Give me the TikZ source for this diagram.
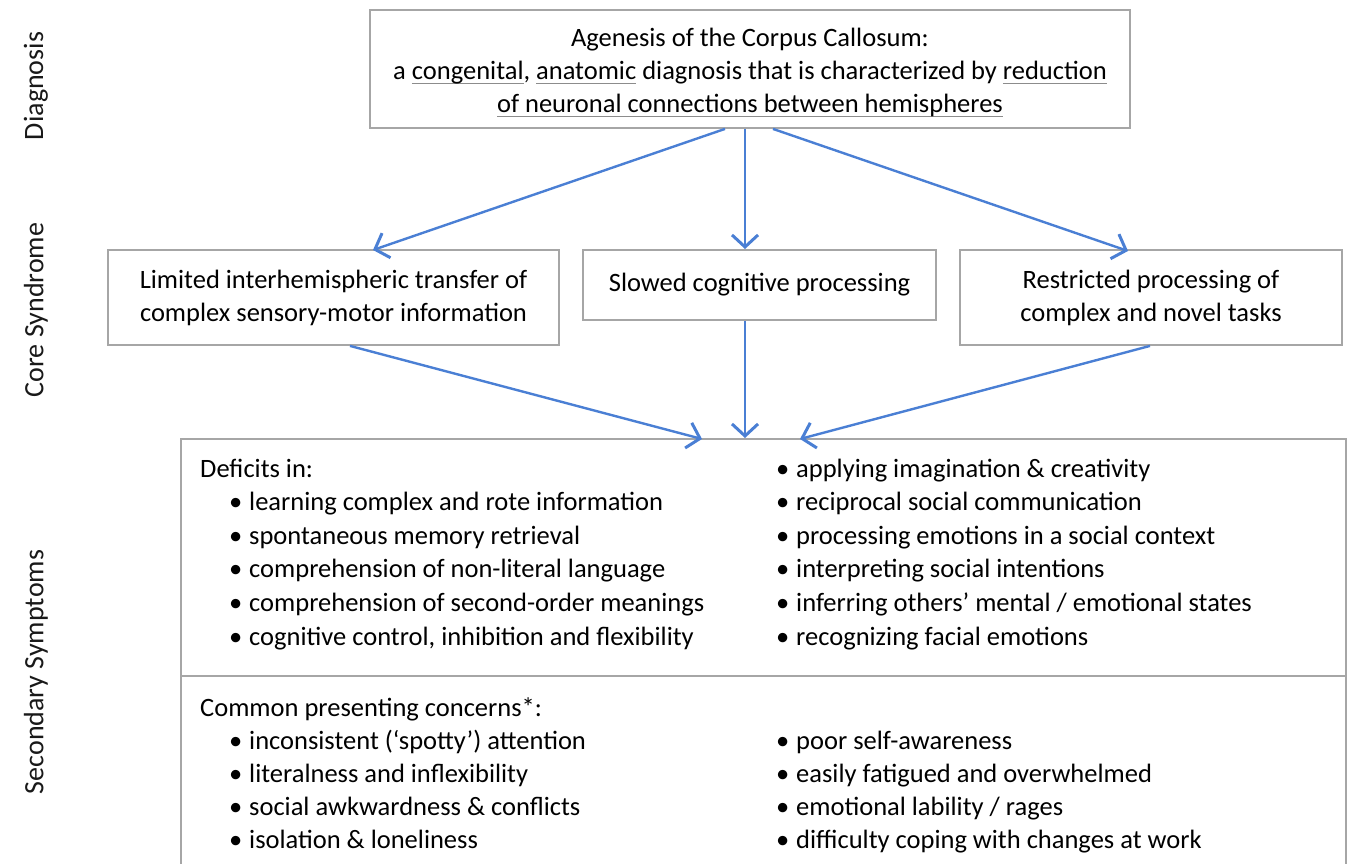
\documentclass[tikz,border=0pt]{standalone}
\usepackage{fontspec}
\setmainfont{Carlito}
\usetikzlibrary{arrows.meta}
\definecolor{boxgray}{HTML}{A6A6A6}
\definecolor{arrblue}{HTML}{4A7FD4}
\definecolor{ulgray}{HTML}{8C8C8C}
\newsavebox\ulbox
\newcommand\gul[1]{\sbox\ulbox{#1}\rlap{\color{ulgray}\rule[-4.5pt]{\wd\ulbox}{1pt}}\usebox\ulbox}
\newcommand\bul{\makebox[20pt][l]{•}}
\tikzset{
  box/.style={draw=boxgray, line width=1.8pt, fill=white, align=center, inner sep=0pt, font=\fontsize{26.5}{33}\selectfont},
  arr/.style={draw=arrblue, line width=2.4pt, -{Straight Barb[length=12pt,width=26pt,line width=3pt]}},
  side/.style={rotate=90, font=\fontsize{28}{32}\selectfont, text=black!90},
  item/.style={anchor=base west, inner sep=0pt, font=\fontsize{26.5}{30}\selectfont},
}
\begin{document}
\begin{tikzpicture}[x=1pt,y=-1pt]
\useasboundingbox (0,0) rectangle (1347,863);
\clip (0,0) rectangle (1347,863);
% side labels
\node[side] (ldiag) at (36,86) {Diagnosis};
\node[side] (lcore) at (36,310) {Core Syndrome};
\node[side] (lsec) at (36,672) {Secondary Symptoms};
% top box
\node[box, minimum width=760pt, minimum height=118pt] (top) at (750,69)
  {\rule{0pt}{25pt}Agenesis of the Corpus Callosum:\\
   a \gul{congenital}, \gul{anatomic} diagnosis that is characterized by \gul{reduction}\\
   \gul{of neuronal connections between hemispheres}};
% core boxes
\node[box, minimum width=451pt, minimum height=95pt] (lim) at (333.5,297.5)
  {Limited interhemispheric transfer of\\complex sensory-motor information};
\node[box, minimum width=353pt, minimum height=70pt] (slow) at (759.5,285)
  {Slowed cognitive processing};
\node[box, minimum width=382pt, minimum height=95pt] (res) at (1151,297.5)
  {Restricted processing of\\complex and novel tasks};
% bottom box
\node[box, minimum width=1165pt, minimum height=480pt, anchor=north west] (sec) at (180,438) {};
\coordinate (divL) at (180,676);
\coordinate (divR) at (1345,676);
\draw[draw=boxgray, line width=1.8pt] (divL) -- (divR);
% arrows
\draw[arr] (top.south -| 725,0) -- (373,250);
\draw[arr] (top.south -| 745,0) -- (745,249);
\draw[arr] (top.south -| 773,0) -- (1128,251);
\draw[arr] (lim.south -| 350,0) -- (702,439);
\draw[arr] (slow.south -| 745,0) -- (745,438);
\draw[arr] (res.south -| 1150,0) -- (800,439);
% deficits
\node[item] (dh) at (200,477) {Deficits in:};
\foreach \t [count=\i] in {learning complex and rote information,
  spontaneous memory retrieval,
  comprehension of non-literal language,
  comprehension of second-order meanings,
  {cognitive control, inhibition and flexibility}}
  \node[item] (dl\i) at (229,477+\i*33.6) {\bul\t};
\foreach \t [count=\i] in {applying imagination \& creativity,
  reciprocal social communication,
  processing emotions in a social context,
  interpreting social intentions,
  inferring others’ mental / emotional states,
  recognizing facial emotions}
  \node[item] (dr\i) at (776,477+\i*33.6-33.6) {\bul\t};
% common concerns
\node[item] (ch) at (200,716) {Common presenting concerns*:};
\foreach \t [count=\i] in {inconsistent (‘spotty’) attention,
  literalness and inflexibility,
  social awkwardness \& conflicts,
  isolation \& loneliness}
  \node[item] (cl\i) at (229,716+\i*33) {\bul\t};
\foreach \t [count=\i] in {poor self-awareness,
  easily fatigued and overwhelmed,
  emotional lability / rages,
  difficulty coping with changes at work}
  \node[item] (cr\i) at (776,716+\i*33) {\bul\t};
\end{tikzpicture}
\end{document}
